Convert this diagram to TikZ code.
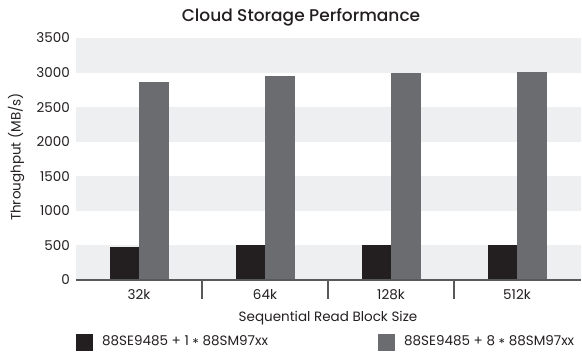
\documentclass[tikz,border=0pt]{standalone}
\usepackage{fontspec}
\setmainfont{Poppins}
\newfontfamily\titlefont{Poppins Medium}
\definecolor{band}{HTML}{EEEFF1}
\definecolor{barA}{HTML}{231F20}
\definecolor{barB}{HTML}{6B6C70}
\definecolor{axisc}{HTML}{58595B}
\definecolor{txt}{HTML}{231F20}
\newcommand{\midast}{\raisebox{-0.35ex}{*}}
\begin{document}
\begin{tikzpicture}[x=1pt,y=1pt,
  lbl/.style={inner sep=0pt,text=txt,font=\fontsize{13.5}{15}\selectfont},
  ytick/.style={lbl,anchor=east},
  axisline/.style={draw=axisc,line width=1.2pt}]
\useasboundingbox (0,0) rectangle (582,354);
% value v -> y = 74 + v*0.06914
\foreach \k in {0,1000,2000,3000}{
  \fill[band] (76,{74+\k*0.06914}) rectangle (581,{74+(\k+500)*0.06914});
}
\foreach \v in {0,500,...,3500}{
  \node[ytick] (y\v) at (70,{74+\v*0.06914}) {\v};
}
% bars
\foreach \c/\a/\b [count=\i from 0] in {32k/482/2864, 64k/506/2950, 128k/506/3000, 512k/506/3015}{
  \pgfmathsetmacro{\cx}{139+126*\i}
  \fill[barA] ({\cx-29.5},74) rectangle (\cx,{74+\a*0.06914});
  \fill[barB] (\cx,74) rectangle ({\cx+29.5},{74+\b*0.06914});
  \node[lbl] (c\i) at (\cx,59) {\c};
}
\coordinate (ax0) at (76,74);
\coordinate (ax1) at (581,74);
\draw[axisline] (ax0) -- (ax1);
\foreach \t in {202,328,454}{
  \draw[axisline] (\t,74) -- (\t,55);
}
\node[font=\titlefont\fontsize{17}{19}\selectfont,text=txt,inner sep=0pt] (title) at (301,337) {Cloud Storage Performance};
\node[lbl] (xlab) at (328,36) {Sequential Read Block Size};
\node[lbl,rotate=90] (ylab) at (16,197) {Throughput (MB/s)};
\fill[barA] (76,3) rectangle (93,20);
\node[lbl,anchor=west] (leg1) at (102,12) {88SE9485 + 1 \midast{} 88SM97xx};
\fill[barB] (378,3) rectangle (395,20);
\node[lbl,anchor=west] (leg2) at (404,12) {88SE9485 + 8 \midast{} 88SM97xx};
\end{tikzpicture}
\end{document}
